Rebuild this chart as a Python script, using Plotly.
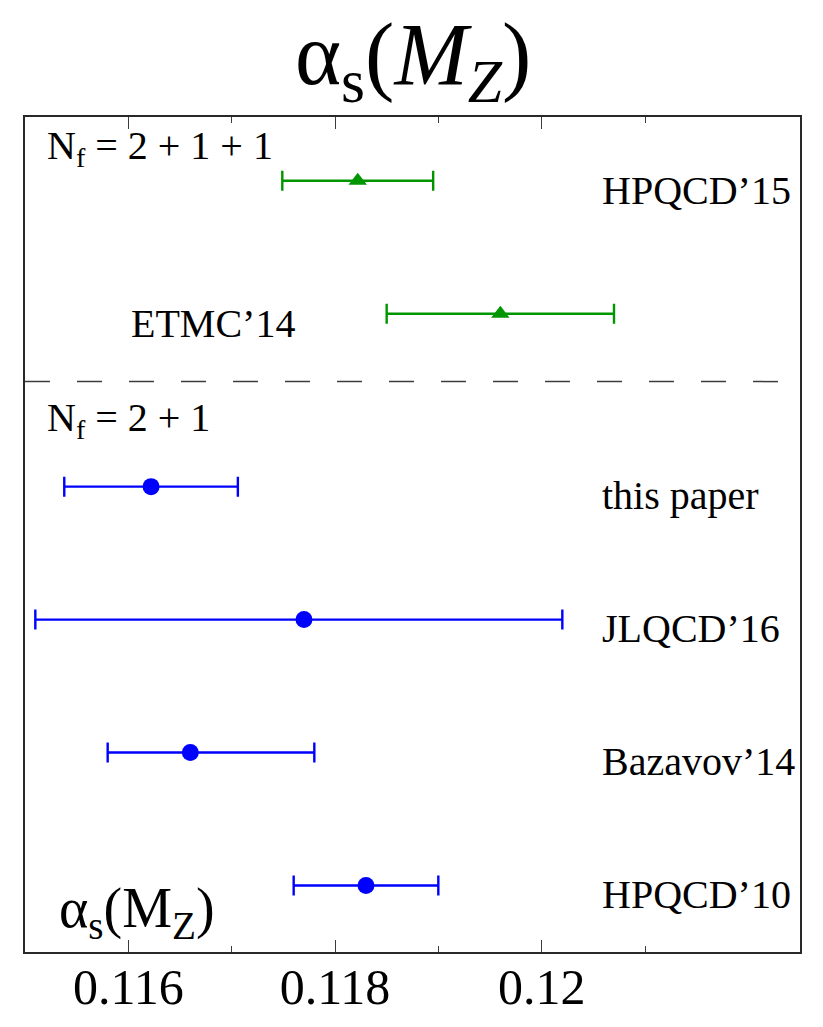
import plotly.graph_objects as go

# alpha_s(M_Z) determinations
labels = ["HPQCD’15", "ETMC’14", "this paper", "JLQCD’16", "Bazavov’14", "HPQCD’10"]
central = [0.11822, 0.1196, 0.11622, 0.1177, 0.1166, 0.1183]
err_plus = [0.00073, 0.0011, 0.00084, 0.0025, 0.0012, 0.0007]
err_minus = [0.00073, 0.0011, 0.00084, 0.0026, 0.0008, 0.0007]
row = [5.8, 4.8, 3.5, 2.5, 1.5, 0.5]
nf = ["2+1+1", "2+1+1", "2+1", "2+1", "2+1", "2+1"]
label_x = [0.12056, 0.11601, 0.12056, 0.12056, 0.12056, 0.12056]

FONT = "Liberation Serif"
fig = go.Figure()

styles = {
    "2+1+1": dict(color="rgb(0,150,0)", symbol="triangle-up", size=16),
    "2+1": dict(color="rgb(0,0,255)", symbol="circle", size=17),
}
for group, st in styles.items():
    idx = [i for i, g in enumerate(nf) if g == group]
    fig.add_trace(go.Scatter(
        x=[central[i] for i in idx],
        y=[row[i] for i in idx],
        mode="markers",
        marker=dict(color=st["color"], symbol=st["symbol"], size=st["size"]),
        error_x=dict(type="data", symmetric=False,
                     array=[err_plus[i] for i in idx],
                     arrayminus=[err_minus[i] for i in idx],
                     color=st["color"], thickness=2.4, width=10),
        showlegend=False,
    ))

for lab, lx, y in zip(labels, label_x, row):
    fig.add_annotation(x=lx, y=y - 0.07, text=lab, showarrow=False,
                       xanchor="left", yanchor="middle",
                       font=dict(family=FONT, size=40, color="black"))

# separator between N_f = 2+1+1 and N_f = 2+1
fig.add_shape(type="line", xref="paper", x0=0, x1=1, y0=4.29, y1=4.29,
              line=dict(color="rgb(60,60,60)", width=1.5, dash="25px,27px"))

fig.add_annotation(x=0.115, y=6.05, text="N<sub>f</sub> = 2 + 1 + 1", showarrow=False,
                   xanchor="left", yanchor="middle", xshift=20,
                   font=dict(family=FONT, size=40, color="black"))
fig.add_annotation(x=0.115, y=4.0, text="N<sub>f</sub> = 2 + 1", showarrow=False,
                   xanchor="left", yanchor="middle", xshift=20,
                   font=dict(family=FONT, size=40, color="black"))
fig.add_annotation(x=0.115, y=0.3, text="α<sub>s</sub>(M<sub>Z</sub>)", showarrow=False,
                   xanchor="left", yanchor="middle", xshift=32,
                   font=dict(family=FONT, size=56, color="black"))

# title
fig.add_annotation(xref="paper", yref="paper", x=0.5, y=1.0, yshift=0,
                   text="α<sub>s</sub>(<i>M</i><sub><i>Z</i></sub>)", showarrow=False,
                   xanchor="center", yanchor="bottom",
                   font=dict(family=FONT, size=88, color="black"))

fig.update_xaxes(range=[0.115, 0.1225], tickvals=[0.116, 0.118, 0.12],
                 ticktext=["0.116", "0.118", "0.12"],
                 ticks="inside", ticklen=12, tickwidth=1.2, tickcolor="rgb(60,60,60)",
                 minor=dict(tickvals=[0.117, 0.119, 0.121], ticks="inside",
                            ticklen=6, tickwidth=1.2, tickcolor="rgb(60,60,60)"),
                 showline=True, linecolor="rgb(40,40,40)", linewidth=2, mirror="ticks",
                 showgrid=False, zeroline=False, automargin=False,
                 ticklabelstandoff=-10,
                 tickfont=dict(family=FONT, size=50, color="black"))
fig.update_yaxes(range=[0, 6.28], showticklabels=False, ticks="",
                 showline=True, linecolor="rgb(40,40,40)", linewidth=2, mirror=True,
                 showgrid=False, zeroline=False, automargin=False)

fig.update_layout(width=823, height=1027,
                  margin=dict(l=25, r=23, t=117, b=75, autoexpand=False),
                  plot_bgcolor="white", paper_bgcolor="white")

fig.write_html("out.html")
